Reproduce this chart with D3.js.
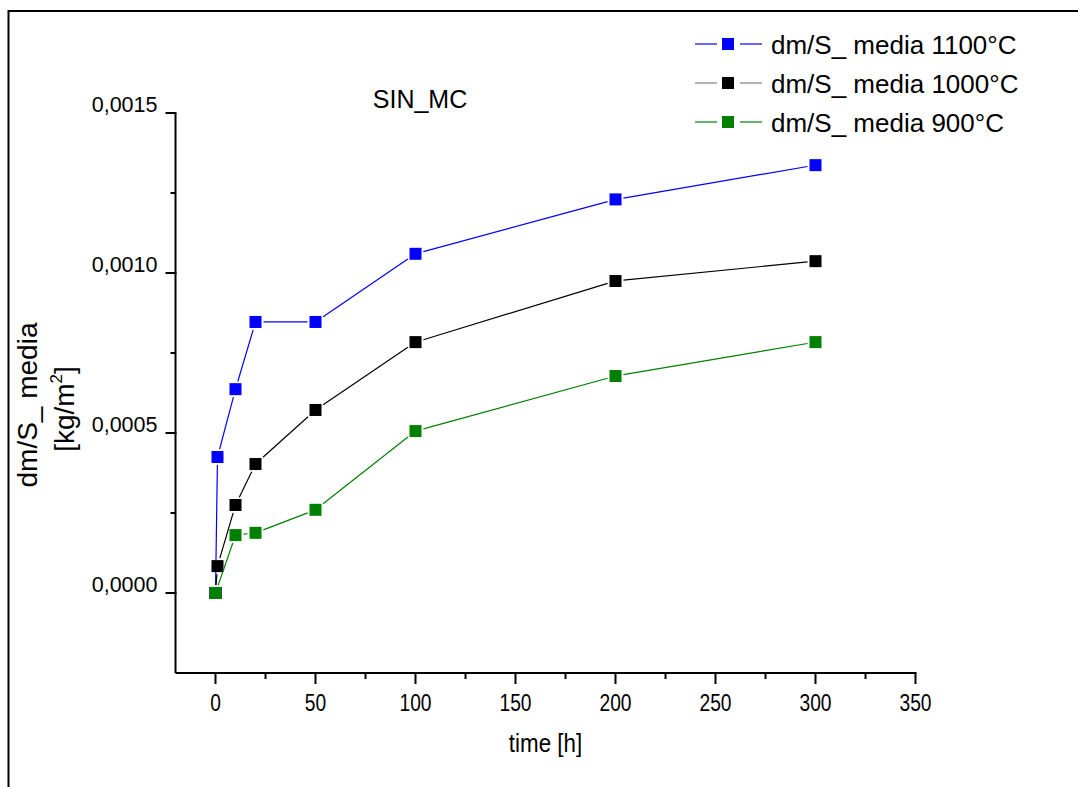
<!DOCTYPE html>
<html>
<head>
<meta charset="utf-8">
<script src="https://cdn.jsdelivr.net/npm/d3@7/dist/d3.min.js"></script>
<style>
  html, body { margin: 0; padding: 0; background: #ffffff; }
  svg { display: block; }
  .sans { font-family: "Liberation Sans", Arial, sans-serif; }
</style>
</head>
<body>
<script>
// Mass gain per unit surface vs. oxidation time
const times1100 = [0, 1, 10, 20, 50, 100, 200, 300];
const gain1100  = [0, 0.000425, 0.000637, 0.000847, 0.000847, 0.00106, 0.001230, 0.001337];

const times1000 = [0, 1, 10, 20, 50, 100, 200, 300];
const gain1000  = [0, 0.000084, 0.000275, 0.000403, 0.000572, 0.000784, 0.000975, 0.001037];

const times900  = [0, 10, 20, 50, 100, 200, 300];
const gain900   = [0, 0.000181, 0.000188, 0.000260, 0.000506, 0.000678, 0.000784];

const seriesNames  = ["dm/S_ media 1100°C", "dm/S_ media 1000°C", "dm/S_ media 900°C"];
const seriesColors = ["#0000ff", "#000000", "#008000"];
const legendLineColors = ["#0000ff", "#808080", "#008000"];

const xTicks = [0, 50, 100, 150, 200, 250, 300, 350];
const yTicks = [0, 0.0005, 0.0010, 0.0015];

const W = 1078, H = 787;
const svg = d3.select("body").append("svg").attr("width", W).attr("height", H);

// page frame (top and left edges)
svg.append("path")
  .attr("d", `M${W},11 L8.5,11 L8.5,${H}`)
  .attr("fill", "none").attr("stroke", "#000").attr("stroke-width", 2);

const x = d3.scaleLinear().domain([-20, 350]).range([175.5, 915.5]);
const y = d3.scaleLinear().domain([-0.00025, 0.0015]).range([673, 113]);

const fmtY = v => d3.format(".4f")(v).replace(".", ",");

// x axis
const xAxis = svg.append("g").attr("transform", `translate(0,${y.range()[0]})`);
xAxis.append("line").attr("x1", x(-20)).attr("x2", x(350) + 1).attr("stroke", "#000").attr("stroke-width", 2);
xAxis.selectAll("line.minor").data(d3.range(25, 350, 50)).join("line")
  .attr("class", "minor")
  .attr("x1", d => x(d)).attr("x2", d => x(d)).attr("y1", 0).attr("y2", 6)
  .attr("stroke", "#000").attr("stroke-width", 2);
xAxis.selectAll("line.major").data(xTicks).join("line")
  .attr("class", "major")
  .attr("x1", d => x(d)).attr("x2", d => x(d)).attr("y1", 0).attr("y2", 11)
  .attr("stroke", "#000").attr("stroke-width", 2);
// condensed tick labels
xAxis.selectAll("text").data(xTicks).join("text")
  .attr("class", "sans")
  .attr("transform", d => `translate(${x(d)},38) scale(0.8,1)`)
  .attr("text-anchor", "middle").attr("font-size", 24)
  .text(d => d);

// y axis
const yAxis = svg.append("g").attr("transform", `translate(${x.range()[0]},0)`);
yAxis.append("line").attr("y1", y(-0.00025)).attr("y2", y(0.0015)).attr("stroke", "#000").attr("stroke-width", 2);
yAxis.selectAll("line.minor").data([0.00025, 0.00075, 0.00125]).join("line")
  .attr("class", "minor")
  .attr("y1", d => y(d)).attr("y2", d => y(d)).attr("x1", 0).attr("x2", -5)
  .attr("stroke", "#000").attr("stroke-width", 2);
yAxis.selectAll("line.major").data(yTicks).join("line")
  .attr("class", "major")
  .attr("y1", d => y(d)).attr("y2", d => y(d)).attr("x1", 1).attr("x2", -10)
  .attr("stroke", "#000").attr("stroke-width", 2);
yAxis.selectAll("text").data(yTicks).join("text")
  .attr("class", "sans")
  .attr("x", -18).attr("y", d => y(d) - 1)
  .attr("text-anchor", "end").attr("font-size", 21.5)
  .text(fmtY);

// axis titles
svg.append("text").attr("class", "sans")
  .attr("transform", `translate(${x(165)},752) scale(0.86,1)`)
  .attr("text-anchor", "middle").attr("font-size", 26)
  .text("time [h]");

const yTitle = svg.append("g").attr("class", "sans").attr("font-size", 28);
yTitle.append("text")
  .attr("transform", "translate(37,405) rotate(-90)")
  .attr("text-anchor", "middle")
  .text("dm/S_ media");
const unit = yTitle.append("text")
  .attr("transform", "translate(74,409) rotate(-90)")
  .attr("text-anchor", "middle");
unit.append("tspan").text("[kg/m");
unit.append("tspan").attr("font-size", 17).attr("dy", -12).text("2");
unit.append("tspan").attr("dy", 12).text("]");

// chart title
svg.append("text").attr("class", "sans")
  .attr("x", 420).attr("y", 108)
  .attr("text-anchor", "middle").attr("font-size", 25)
  .text("SIN_MC");

// series
const series = [
  { t: times1100, v: gain1100 },
  { t: times1000, v: gain1000 },
  { t: times900,  v: gain900 }
];
const half = 6, gap = 2;

// connecting segments stop short of the square markers
function segments(pts) {
  const out = [];
  for (let i = 0; i < pts.length - 1; i++) {
    const [x1, y1] = pts[i], [x2, y2] = pts[i + 1];
    const dx = x2 - x1, dy = y2 - y1, len = Math.hypot(dx, dy);
    if (len === 0) continue;
    const ux = dx / len, uy = dy / len;
    const cut = half / Math.max(Math.abs(ux), Math.abs(uy)) + gap;
    if (len <= 2 * cut) continue;
    out.push([x1 + ux * cut, y1 + uy * cut, x2 - ux * cut, y2 - uy * cut]);
  }
  return out;
}

series.forEach((s, i) => {
  const pts = s.t.map((t, j) => [x(t), y(s.v[j])]);
  const g = svg.append("g");
  g.selectAll("line").data(segments(pts)).join("line")
    .attr("x1", d => d[0]).attr("y1", d => d[1])
    .attr("x2", d => d[2]).attr("y2", d => d[3])
    .attr("stroke", seriesColors[i]).attr("stroke-width", 1.2);
  g.selectAll("rect").data(pts).join("rect")
    .attr("x", d => d[0] - half).attr("y", d => d[1] - half)
    .attr("width", 2 * half).attr("height", 2 * half)
    .attr("fill", seriesColors[i]);
});

// legend
const legend = svg.append("g").attr("class", "sans");
seriesNames.forEach((name, i) => {
  const cy = 44 + i * 39;
  const row = legend.append("g");
  row.append("line").attr("x1", 695).attr("x2", 717).attr("y1", cy).attr("y2", cy)
    .attr("stroke", legendLineColors[i]).attr("stroke-width", 1.2);
  row.append("line").attr("x1", 740).attr("x2", 762).attr("y1", cy).attr("y2", cy)
    .attr("stroke", legendLineColors[i]).attr("stroke-width", 1.2);
  row.append("rect").attr("x", 722).attr("y", cy - 6).attr("width", 12).attr("height", 12)
    .attr("fill", seriesColors[i]);
  row.append("text").attr("x", 771).attr("y", cy + 9.5)
    .attr("font-size", 26).text(name);
});
</script>
</body>
</html>
